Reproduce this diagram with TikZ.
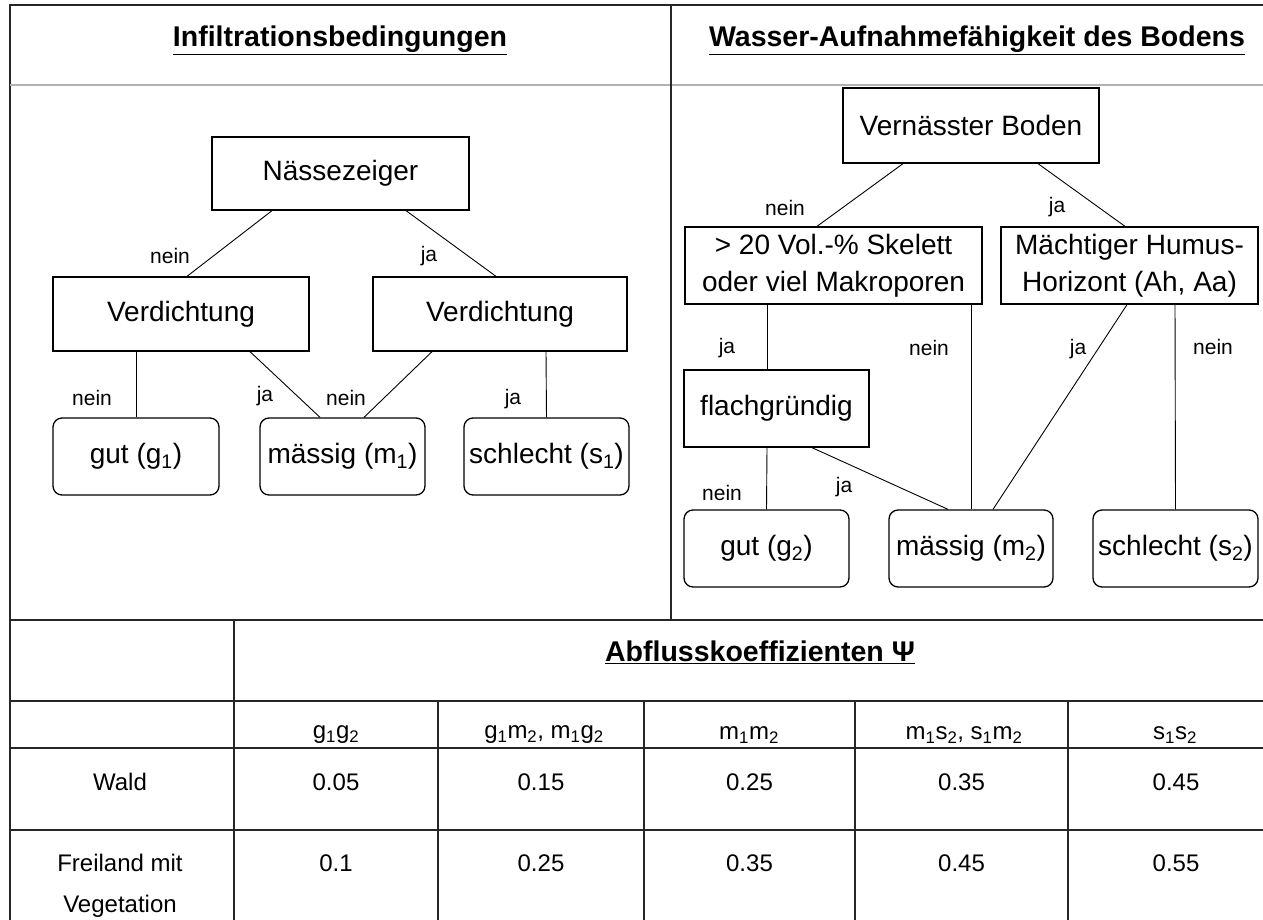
\documentclass[tikz,border=0pt]{standalone}
\usepackage{fontspec}
\setmainfont{Liberation Sans}
\usetikzlibrary{calc}
\begin{document}
\begin{tikzpicture}[x=1pt,y=-1pt,
  frame/.style={line width=1.6pt, black!85},
  hline/.style={line width=1.4pt, gray!60},
  tbox/.style={draw, line width=1.3pt, inner sep=0pt, align=center, font=\fontsize{28}{37}\selectfont},
  rbox/.style={tbox, rounded corners=9pt},
  conn/.style={line width=0.9pt},
  lab/.style={inner sep=0pt, font=\fontsize{21}{24}\selectfont},
  ttl/.style={inner sep=0pt, font=\fontsize{28.5}{32}\selectfont\bfseries},
  cell/.style={inner sep=0pt, font=\fontsize{24}{30}\selectfont, align=center}]
\path[use as bounding box, clip] (0,0) rectangle (1263,920);
\fill[white] (0,0) rectangle (1263,920);

% frame and table lines
\draw[frame] (1290,5) -- (10,5) -- (10,940);
\draw[hline] (10,85) -- (1290,85);
\draw[frame] (671,5) -- (671,620);
\draw[frame] (10,620) -- (1290,620);
\draw[frame] (10,701) -- (1290,701);
\draw[frame] (10,748) -- (1290,748);
\draw[frame] (10,830) -- (1290,830);
\draw[frame] (234,620) -- (234,940);
\foreach \xx in {438,644,855,1068} \draw[frame] (\xx,701) -- (\xx,940);

% titles
\node[ttl] (t1) at (340,40) {\underline{Infiltrationsbedingungen}};
\node[ttl] (t2) at (977,40) {\underline{Wasser-Aufnahmefähigkeit des Bodens}};
\node[ttl] (t3) at (760,652) {\underline{Abflusskoeffizienten Ψ}};

% left tree
\node[tbox, minimum width=257pt, minimum height=73pt] (nae) at (340.5,173.5) {Nässezeiger};
\node[tbox, minimum width=256pt, minimum height=74pt] (vl) at (181,314) {Verdichtung};
\node[tbox, minimum width=254pt, minimum height=74pt] (vr) at (500,314) {Verdichtung};
\node[rbox, minimum width=166pt, minimum height=77pt] (g1) at (136,456.5) {gut (g\textsubscript{1})};
\node[rbox, minimum width=165pt, minimum height=77pt] (m1) at (342.5,456.5) {mässig (m\textsubscript{1})};
\node[rbox, minimum width=165pt, minimum height=77pt] (s1) at (546.5,456.5) {schlecht (s\textsubscript{1})};

\draw[conn] ([xshift=-68.5pt]nae.south) -- ([xshift=6pt]vl.north);
\draw[conn] ([xshift=65.5pt]nae.south) -- ([xshift=-4pt]vr.north);
\draw[conn] ([xshift=-45pt]vl.south) -- (g1.north);
\draw[conn] ([xshift=69pt]vl.south) -- ([xshift=-22.5pt]m1.north);
\draw[conn] ([xshift=-68pt]vr.south) -- ([xshift=21.5pt]m1.north);
\draw[conn] ([xshift=46pt]vr.south) -- (s1.north);

\node[lab] (la1) at (170,256) {nein};
\node[lab] (la2) at (429,256) {ja};
\node[lab] (la3) at (92,398) {nein};
\node[lab] (la4) at (265,396) {ja};
\node[lab] (la5) at (346,398) {nein};
\node[lab] (la6) at (513,399) {ja};

% right tree
\node[tbox, minimum width=256pt, minimum height=75pt] (vb) at (971,125.5) {Vernässter Boden};
\node[tbox, minimum width=297pt, minimum height=77pt] (sk) at (833.5,265.5) {> 20 Vol.-\% Skelett\\oder viel Makroporen};
\node[tbox, minimum width=257pt, minimum height=77pt] (hu) at (1129.5,265.5) {Mächtiger Humus-\\Horizont (Ah, Aa)};
\node[tbox, minimum width=185pt, minimum height=77pt] (fl) at (776.5,408.5) {flachgründig};
\node[rbox, minimum width=165pt, minimum height=77pt] (g2) at (766.5,548.5) {gut (g\textsubscript{2})};
\node[rbox, minimum width=164pt, minimum height=77pt] (m2) at (971,548.5) {mässig (m\textsubscript{2})};
\node[rbox, minimum width=165pt, minimum height=77pt] (s2) at (1175.5,548.5) {schlecht (s\textsubscript{2})};

\draw[conn] ([xshift=-68pt]vb.south) -- ([xshift=-16.5pt]sk.north);
\draw[conn] ([xshift=67pt]vb.south) -- ([xshift=-4.5pt]hu.north);
\draw[conn] ([xshift=-66.5pt]sk.south) -- ([xshift=-9.5pt]fl.north);
\draw[conn] ([xshift=137.5pt]sk.south) -- (m2.north);
\draw[conn] ([xshift=-2.5pt]hu.south) -- ([xshift=22pt]m2.north);
\draw[conn] ([xshift=45.5pt]hu.south) -- (s2.north);
\draw[conn] ([xshift=-9.5pt]fl.south) -- (g2.north);
\draw[conn] ([xshift=35.5pt]fl.south) -- ([xshift=-23pt]m2.north);

\node[lab] (lb1) at (785,208) {nein};
\node[lab] (lb2) at (1057,207) {ja};
\node[lab] (lb3) at (727,348) {ja};
\node[lab] (lb4) at (929,348) {nein};
\node[lab] (lb5) at (1078,349) {ja};
\node[lab] (lb6) at (1213,347) {nein};
\node[lab] (lb7) at (722,493) {nein};
\node[lab] (lb8) at (844,487) {ja};

% table contents
\node[cell] (h1) at (336,735) {g\textsubscript{1}g\textsubscript{2}};
\node[cell] (h2) at (544,735) {g\textsubscript{1}m\textsubscript{2}, m\textsubscript{1}g\textsubscript{2}};
\node[cell] (h3) at (749,735) {m\textsubscript{1}m\textsubscript{2}};
\node[cell] (h4) at (964,735) {m\textsubscript{1}s\textsubscript{2}, s\textsubscript{1}m\textsubscript{2}};
\node[cell] (h5) at (1175,735) {s\textsubscript{1}s\textsubscript{2}};

\node[cell] (r1) at (120,782) {Wald};
\node[cell] (w1) at (336,782) {0.05};
\node[cell] (w2) at (541,782) {0.15};
\node[cell] (w3) at (749.5,782) {0.25};
\node[cell] (w4) at (961.5,782) {0.35};
\node[cell] (w5) at (1176,782) {0.45};

\node[cell] (r2a) at (120,863) {Freiland mit};
\node[cell] (r2b) at (120,906) {Vegetation};
\node[cell] (f1) at (336,863) {0.1};
\node[cell] (f2) at (541,863) {0.25};
\node[cell] (f3) at (749.5,863) {0.35};
\node[cell] (f4) at (961.5,863) {0.45};
\node[cell] (f5) at (1176,863) {0.55};
\end{tikzpicture}
\end{document}
